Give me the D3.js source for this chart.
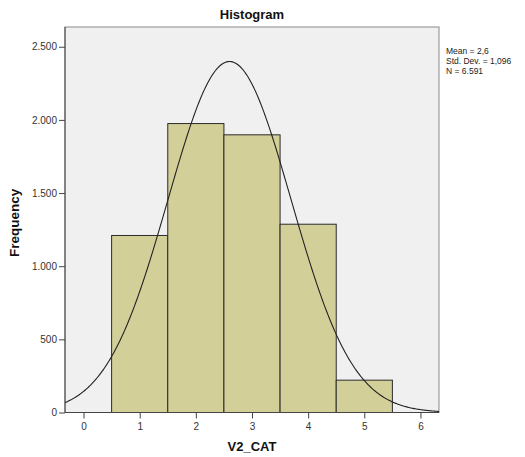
<!DOCTYPE html>
<html><head><meta charset="utf-8">
<script src="https://cdn.jsdelivr.net/npm/d3@7"></script>
<style>body{margin:0;background:#fff;}svg{display:block;font-family:"Liberation Sans",Arial,sans-serif;}</style>
</head><body>
<svg id="c" width="525" height="457"></svg>
<script>
const binCenters = [1, 2, 3, 4, 5];
const frequencies = [1210, 1975, 1898, 1287, 221];
const yTicks = [0, 500, 1000, 1500, 2000, 2500];
const xTicks = [0, 1, 2, 3, 4, 5, 6];
const statLabels = ["Mean = 2,6", "Std. Dev. = 1,096", "N = 6.591"];
const meanVal = 2.6, sdVal = 1.096, nVal = 6591, binWidth = 1;

const svg = d3.select("#c");
const L = 65, R = 439, T = 27, B = 412.5;
const x = d3.scaleLinear().domain([-0.33, 6.33]).range([L, R]);
const y = d3.scaleLinear().domain([0, 2635]).range([B, T]);
const fmt = d => d3.format(",")(d).replace(/,/g, ".");

svg.append("rect").attr("x", L).attr("y", T).attr("width", R - L).attr("height", B - T)
  .attr("fill", "#f0f0f0").attr("stroke", "#8a8a8a").attr("stroke-width", 1);

svg.selectAll("rect.bar").data(binCenters).join("rect").attr("class", "bar")
  .attr("x", d => x(d - binWidth / 2)).attr("width", d => x(d + binWidth / 2) - x(d - binWidth / 2))
  .attr("y", (d, i) => y(frequencies[i])).attr("height", (d, i) => B - y(frequencies[i]))
  .attr("fill", "#d3cf99").attr("stroke", "#2b2b2b").attr("stroke-width", 1);

const pts = d3.range(-0.33, 6.34, 0.02).map(v => [v, nVal * binWidth * Math.exp(-0.5 * ((v - meanVal) / sdVal) ** 2) / (sdVal * Math.sqrt(2 * Math.PI))]);
svg.append("path").datum(pts).attr("fill", "none").attr("stroke", "#222").attr("stroke-width", 1.1)
  .attr("d", d3.line().x(d => x(d[0])).y(d => y(d[1])));

const ya = svg.append("g").attr("transform", `translate(${L},0)`)
  .call(d3.axisLeft(y).tickValues(yTicks).tickFormat(fmt).tickSize(6).tickPadding(2));
const xa = svg.append("g").attr("transform", `translate(0,${B})`)
  .call(d3.axisBottom(x).tickValues(xTicks).tickFormat(d3.format("d")).tickSize(6).tickPadding(4));
[ya, xa].forEach(g => {
  g.select(".domain").attr("stroke", "#444");
  g.selectAll(".tick line").attr("stroke", "#444");
  g.selectAll(".tick text").attr("fill", "#333").attr("font-size", 10).attr("font-family", "Liberation Sans, Arial, sans-serif");
});
xa.select(".domain").attr("d", `M${L},0H${R}`);
ya.select(".domain").attr("d", `M0,${B}V${T}`);

svg.append("text").attr("x", (L + R) / 2).attr("y", 19).attr("text-anchor", "middle")
  .attr("font-size", 13).attr("font-weight", "bold").attr("fill", "#111").text("Histogram");
svg.append("text").attr("transform", `translate(19,${(T + B) / 2 + 3}) rotate(-90)`).attr("text-anchor", "middle")
  .attr("font-size", 13.5).attr("font-weight", "bold").attr("fill", "#111").text("Frequency");
svg.append("text").attr("x", (L + R) / 2).attr("y", 451).attr("text-anchor", "middle")
  .attr("font-size", 13).attr("font-weight", "bold").attr("fill", "#111").text("V2_CAT");
svg.selectAll("text.stat").data(statLabels).join("text").attr("class", "stat")
  .attr("x", 446).attr("y", (d, i) => 54 + i * 10).attr("font-size", 8.5).attr("fill", "#222").text(d => d);
</script>
</body></html>
